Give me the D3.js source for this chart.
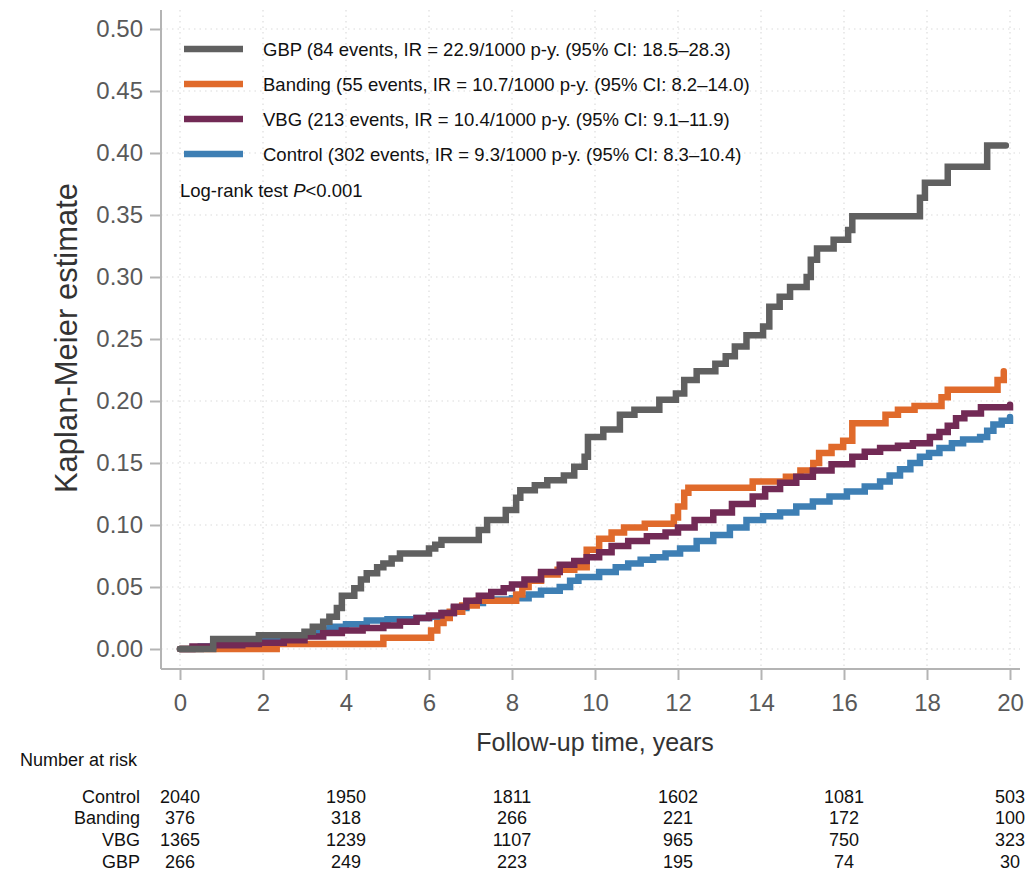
<!DOCTYPE html>
<html>
<head>
<meta charset="utf-8">
<script src="https://cdn.jsdelivr.net/npm/d3@7"></script>
<style>
  html, body { margin: 0; padding: 0; background: #fff; }
  svg { display: block; font-family: "Liberation Sans", Arial, sans-serif; }
</style>
</head>
<body>
<svg id="chart" width="1028" height="872"></svg>
<script>
// ---------------- data ----------------
const seriesNames = ["GBP", "Banding", "VBG", "Control"];
const legendLabels = [
  "GBP (84 events, IR = 22.9/1000 p-y. (95% CI: 18.5\u201328.3)",
  "Banding (55 events, IR = 10.7/1000 p-y. (95% CI: 8.2\u201314.0)",
  "VBG (213 events, IR = 10.4/1000 p-y. (95% CI: 9.1\u201311.9)",
  "Control (302 events, IR = 9.3/1000 p-y. (95% CI: 8.3\u201310.4)"
];
const colors = ["#606060", "#e06a2b", "#722a55", "#3e7fb4"];

const gbpTime = [0, 0.8, 1.9, 3.0, 3.2, 3.45, 3.6, 3.78, 3.9, 4.2, 4.36, 4.5, 4.75, 4.9, 5.1, 5.3, 6.0, 6.15, 6.3, 7.2, 7.4, 7.85, 8.1, 8.2, 8.55, 8.85, 9.25, 9.5, 9.75, 9.83, 10.2, 10.6, 10.95, 11.55, 11.95, 12.15, 12.45, 12.9, 13.15, 13.37, 13.65, 14.05, 14.2, 14.45, 14.7, 15.1, 15.2, 15.35, 15.75, 16.1, 16.2, 17.83, 17.95, 18.5, 19.45, 19.9];
const gbpKM   = [0, 0.008, 0.011, 0.014, 0.018, 0.022, 0.026, 0.033, 0.043, 0.049, 0.056, 0.061, 0.066, 0.069, 0.073, 0.077, 0.081, 0.084, 0.088, 0.096, 0.104, 0.112, 0.122, 0.128, 0.132, 0.136, 0.140, 0.147, 0.155, 0.171, 0.177, 0.189, 0.193, 0.201, 0.206, 0.217, 0.224, 0.230, 0.236, 0.244, 0.253, 0.260, 0.276, 0.284, 0.292, 0.300, 0.314, 0.323, 0.330, 0.338, 0.349, 0.364, 0.376, 0.389, 0.406, 0.406];

const bandTime = [0, 0.8, 2.33, 4.9, 6.05, 6.2, 6.35, 6.5, 6.8, 7.15, 8.1, 8.25, 8.4, 8.7, 9.1, 9.5, 9.8, 10.1, 10.4, 10.7, 11.2, 11.9, 12.0, 12.15, 12.25, 13.8, 14.6, 14.95, 15.26, 15.4, 15.7, 15.98, 16.2, 17.0, 17.3, 17.7, 18.35, 18.5, 19.7, 19.85];
const bandKM   = [0, 0, 0.004, 0.009, 0.015, 0.021, 0.025, 0.030, 0.035, 0.039, 0.044, 0.050, 0.055, 0.060, 0.064, 0.066, 0.080, 0.089, 0.094, 0.098, 0.101, 0.106, 0.115, 0.126, 0.130, 0.135, 0.139, 0.144, 0.150, 0.158, 0.163, 0.168, 0.182, 0.189, 0.193, 0.196, 0.203, 0.209, 0.217, 0.224];

const vbgTime = [0, 0.3, 0.8, 1.5, 1.9, 2.5, 3.0, 3.45, 3.9, 4.4, 4.9, 5.3, 5.7, 6.0, 6.3, 6.6, 6.9, 7.2, 7.5, 7.8, 8.0, 8.3, 8.7, 9.15, 9.5, 9.8, 10.1, 10.4, 10.8, 11.25, 11.7, 12.0, 12.4, 12.85, 13.3, 13.8, 14.1, 14.46, 14.85, 15.25, 15.7, 16.2, 16.5, 16.87, 17.3, 17.66, 18.07, 18.3, 18.5, 18.7, 18.9, 19.3, 20.0];
const vbgKM   = [0, 0.002, 0.003, 0.004, 0.005, 0.007, 0.010, 0.013, 0.015, 0.017, 0.019, 0.022, 0.025, 0.027, 0.029, 0.034, 0.039, 0.043, 0.046, 0.049, 0.052, 0.056, 0.062, 0.068, 0.071, 0.074, 0.078, 0.083, 0.087, 0.091, 0.094, 0.098, 0.104, 0.110, 0.117, 0.123, 0.129, 0.134, 0.139, 0.144, 0.149, 0.155, 0.159, 0.162, 0.164, 0.166, 0.171, 0.175, 0.180, 0.186, 0.190, 0.195, 0.197];

const ctrlTime = [0, 0.5, 1.0, 1.5, 2.0, 2.5, 2.9, 3.3, 3.6, 4.0, 4.5, 5.0, 5.7, 6.0, 6.35, 6.6, 6.9, 7.3, 8.0, 8.4, 8.7, 9.15, 9.4, 9.6, 10.1, 10.5, 10.8, 11.1, 11.4, 11.7, 12.05, 12.45, 12.85, 13.25, 13.65, 14.05, 14.46, 14.85, 15.25, 15.65, 16.07, 16.5, 16.87, 17.1, 17.35, 17.6, 17.83, 18.05, 18.3, 18.6, 18.87, 19.28, 19.45, 19.6, 19.8, 20.0];
const ctrlKM   = [0, 0.002, 0.004, 0.006, 0.008, 0.010, 0.011, 0.015, 0.018, 0.020, 0.023, 0.024, 0.025, 0.026, 0.029, 0.033, 0.037, 0.040, 0.041, 0.044, 0.047, 0.050, 0.055, 0.058, 0.062, 0.066, 0.069, 0.072, 0.074, 0.077, 0.081, 0.087, 0.092, 0.098, 0.104, 0.107, 0.110, 0.115, 0.119, 0.123, 0.127, 0.131, 0.135, 0.140, 0.145, 0.150, 0.155, 0.158, 0.162, 0.166, 0.169, 0.171, 0.176, 0.181, 0.184, 0.187];

const yTicks = [0, 0.05, 0.10, 0.15, 0.20, 0.25, 0.30, 0.35, 0.40, 0.45, 0.50];
const xTicks = [0, 2, 4, 6, 8, 10, 12, 14, 16, 18, 20];

const riskTimes = [0, 4, 8, 12, 16, 20];
const riskRows = ["Control", "Banding", "VBG", "GBP"];
const riskControl = [2040, 1950, 1811, 1602, 1081, 503];
const riskBanding = [376, 318, 266, 221, 172, 100];
const riskVBG     = [1365, 1239, 1107, 965, 750, 323];
const riskGBP     = [266, 249, 223, 195, 74, 30];

// ---------------- build ----------------
const svg = d3.select("#chart");
const x = d3.scaleLinear().domain([0, 20]).range([180, 1010]);
const y = d3.scaleLinear().domain([0, 0.5]).range([649, 29]);

const axisColor = "#b4b4b4";
const textGrey = "#595959";
const ff = "'Liberation Sans', Arial, sans-serif";

// gridlines
const grid = svg.append("g");
grid.selectAll("line.hg").data(yTicks).join("line")
  .attr("x1", 161).attr("x2", 1020)
  .attr("y1", d => y(d)).attr("y2", d => y(d))
  .attr("stroke", "#dcdcdc").attr("stroke-width", 1.2).attr("stroke-dasharray", "1.5,4");
grid.selectAll("line.vg").data(xTicks).join("line")
  .attr("y1", 10).attr("y2", 669)
  .attr("x1", d => x(d)).attr("x2", d => x(d))
  .attr("stroke", "#dcdcdc").attr("stroke-width", 1.2).attr("stroke-dasharray", "1.5,4");

// y axis
const yAxis = d3.axisLeft(y).tickValues(yTicks).tickFormat(d3.format(".2f")).tickSize(11).tickPadding(7);
const gy = svg.append("g").attr("transform", "translate(161,0)").call(yAxis);
gy.select(".domain").remove();
gy.append("line").attr("x1", 0).attr("x2", 0).attr("y1", 10).attr("y2", 669).attr("stroke", axisColor).attr("stroke-width", 2);
gy.selectAll(".tick line").attr("stroke", axisColor).attr("stroke-width", 2);
gy.selectAll(".tick text").attr("fill", textGrey).style("font-size", "24px").style("font-family", ff);

// x axis
const xAxis = d3.axisBottom(x).tickValues(xTicks).tickFormat(d3.format("d")).tickSize(11).tickPadding(14);
const gx = svg.append("g").attr("transform", "translate(0,669)").call(xAxis);
gx.select(".domain").remove();
gx.append("line").attr("x1", 161).attr("x2", 1020).attr("y1", 0).attr("y2", 0).attr("stroke", axisColor).attr("stroke-width", 2);
gx.selectAll(".tick line").attr("stroke", axisColor).attr("stroke-width", 2);
gx.selectAll(".tick text").attr("fill", textGrey).style("font-size", "24px").style("font-family", ff);

// axis titles
svg.append("text").attr("transform", "translate(66,338) rotate(-90)")
  .attr("text-anchor", "middle").attr("dominant-baseline", "central")
  .attr("fill", "#333").style("font-size", "31px").text("Kaplan-Meier estimate");
svg.append("text").attr("x", 595).attr("y", 742)
  .attr("text-anchor", "middle").attr("dominant-baseline", "central")
  .attr("fill", "#333").style("font-size", "25px").text("Follow-up time, years");

// curves
const seriesData = {
  GBP: gbpTime.map((t, i) => [t, gbpKM[i]]),
  Banding: bandTime.map((t, i) => [t, bandKM[i]]),
  VBG: vbgTime.map((t, i) => [t, vbgKM[i]]),
  Control: ctrlTime.map((t, i) => [t, ctrlKM[i]])
};
const line = d3.line().x(d => x(d[0])).y(d => y(d[1])).curve(d3.curveStepAfter);
const drawOrder = ["Control", "Banding", "VBG", "GBP"];
svg.append("g").selectAll("path").data(drawOrder).join("path")
  .attr("d", k => line(seriesData[k]))
  .attr("fill", "none")
  .attr("stroke", k => colors[seriesNames.indexOf(k)])
  .attr("stroke-width", 6.5)
  .attr("stroke-linejoin", "miter")
  .attr("stroke-linecap", "round");

// legend
const lg = svg.append("g");
const legendY = [49, 84, 119, 154];
seriesNames.forEach((s, i) => {
  lg.append("line").attr("x1", 184).attr("x2", 243)
    .attr("y1", legendY[i]).attr("y2", legendY[i])
    .attr("stroke", colors[i]).attr("stroke-width", 6.5);
  lg.append("text").attr("x", 263).attr("y", legendY[i])
    .attr("dominant-baseline", "central").attr("fill", "#111")
    .style("font-size", "18.5px").text(legendLabels[i]);
});
const lr = lg.append("text").attr("x", 180).attr("y", 190)
  .attr("dominant-baseline", "central").attr("fill", "#111").style("font-size", "18.5px");
lr.append("tspan").text("Log-rank test ");
lr.append("tspan").style("font-style", "italic").text("P");
lr.append("tspan").text("<0.001");

// number at risk
svg.append("text").attr("x", 20).attr("y", 760).attr("dominant-baseline", "central")
  .attr("fill", "#111").style("font-size", "18px").text("Number at risk");
const riskData = [riskControl, riskBanding, riskVBG, riskGBP];
const rowY = [797, 818, 840, 862];
riskRows.forEach((r, i) => {
  svg.append("text").attr("x", 140).attr("y", rowY[i]).attr("text-anchor", "end")
    .attr("dominant-baseline", "central").attr("fill", "#111").style("font-size", "18px").text(r);
  riskTimes.forEach((t, j) => {
    svg.append("text").attr("x", x(t)).attr("y", rowY[i]).attr("text-anchor", "middle")
      .attr("dominant-baseline", "central").attr("fill", "#111").style("font-size", "18px")
      .text(riskData[i][j]);
  });
});
</script>
</body>
</html>
